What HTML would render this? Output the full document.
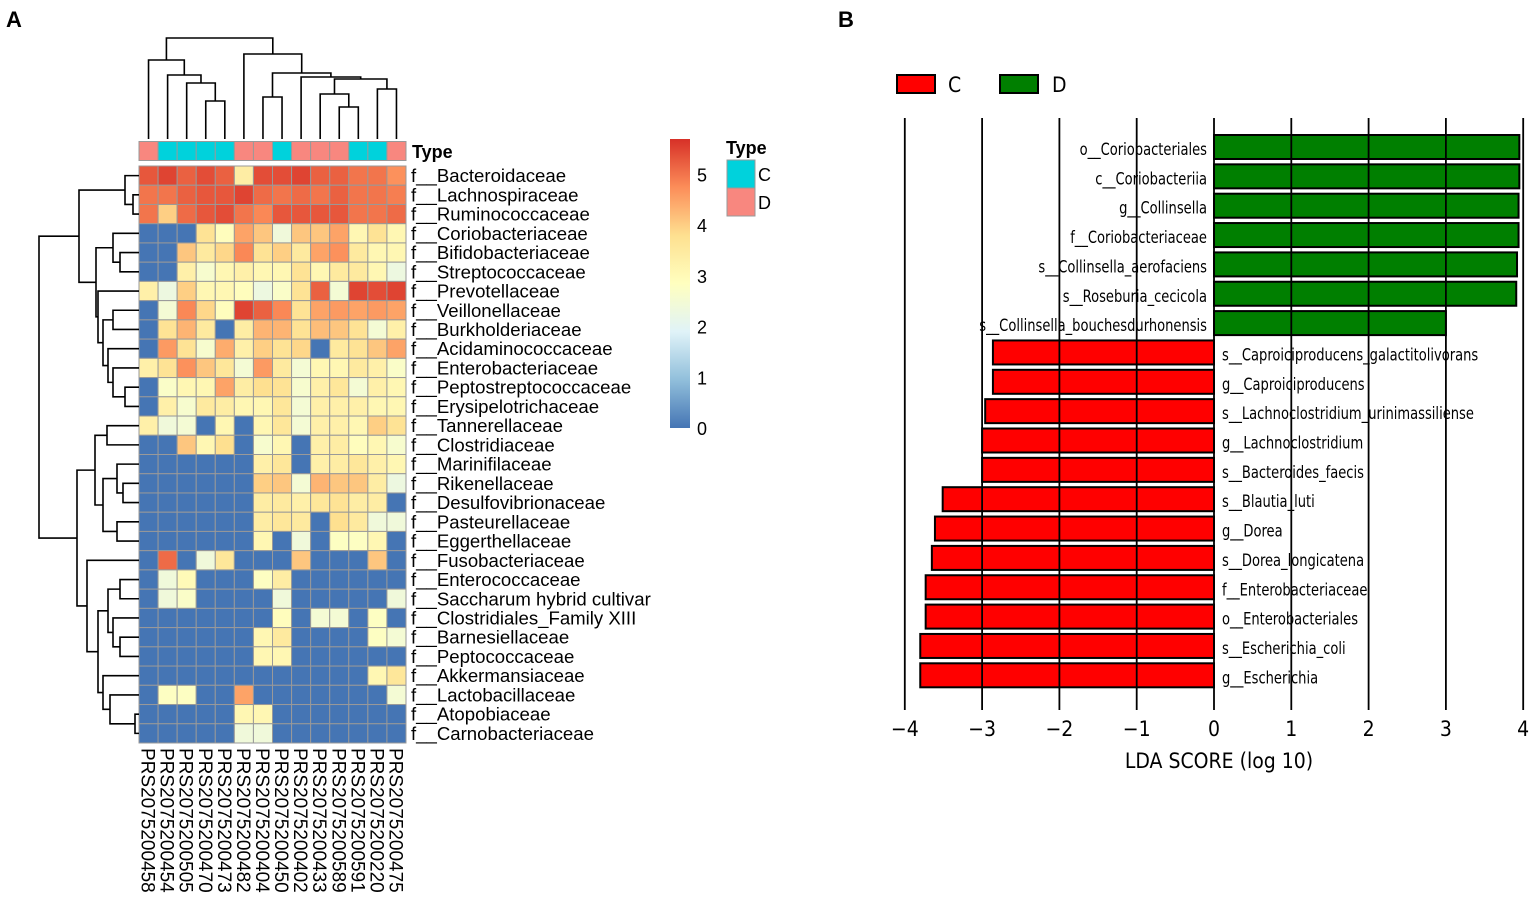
<!DOCTYPE html>
<html><head><meta charset="utf-8">
<style>
html,body{margin:0;padding:0;background:#fff;}
svg{display:block;}
.lda{font-family:"DejaVu Sans Condensed","DejaVu Sans","Liberation Sans",sans-serif;font-stretch:condensed;}
</style></head>
<body>
<svg id="fig" width="1535" height="914" viewBox="0 0 1535 914" xmlns="http://www.w3.org/2000/svg" font-family="Liberation Sans, Arial, sans-serif">
<text x="6" y="27" font-size="22" font-weight="bold">A</text>
<text x="838" y="27" font-size="22" font-weight="bold">B</text>
<g id="heat"></g>
<g id="lda" class="lda"></g>
</svg>
<script>
// ---------- Heatmap data ----------
const samples=["PRS20752004 58","PRS20752004 54","PRS20752005 05","PRS20752004 70","PRS20752004 73","PRS20752004 82","PRS20752004 04","PRS20752004 50","PRS20752004 02","PRS20752004 33","PRS20752005 89","PRS20752005 91","PRS20752002 20","PRS20752004 75"];
const sampleType=["D","C","C","C","C","D","D","C","D","D","D","C","C","D"];
const families=["Bacteroidaceae","Lachnospiraceae","Ruminococcaceae","Coriobacteriaceae","Bifidobacteriaceae","Streptococcaceae","Prevotellaceae","Veillonellaceae","Burkholderiaceae","Acidaminococcaceae","Enterobacteriaceae","Peptostreptococcaceae","Erysipelotrichaceae","Tannerellaceae","Clostridiaceae","Marinifilaceae","Rikenellaceae","Desulfovibrionaceae","Pasteurellaceae","Eggerthellaceae","Fusobacteriaceae","Enterococcaceae","Saccharum hybrid cultivar","Clostridiales_Family XIII","Barnesiellaceae","Peptococcaceae","Akkermansiaceae","Lactobacillaceae","Atopobiaceae","Carnobacteriaceae"];
const heatValues=[
[5.3,5.5,5.2,5.4,5.2,3.4,5.4,5.4,5.5,5.2,5.2,5.0,5.0,4.7],
[5.0,5.0,5.2,5.3,5.3,5.5,5.1,5.0,5.1,5.0,5.2,5.0,5.0,4.9],
[5.0,4.0,5.1,5.3,5.4,5.0,4.8,5.3,5.3,5.3,5.3,5.0,5.0,5.1],
[0,0,0,3.7,2.9,4.5,4.1,2.4,4.1,4.1,4.5,3.1,3.7,3.1],
[0,0,4.1,3.5,3.9,4.8,3.7,4.0,3.5,4.5,4.7,3.5,3.1,3.1],
[0,0,3.3,2.6,3.1,3.3,3.1,3.1,3.7,3.1,3.5,3.5,3.1,2.3],
[3.3,2.3,4.0,3.1,3.1,2.9,2.3,2.7,3.7,5.2,2.5,5.5,5.4,5.5],
[0,2.5,4.8,3.9,2.9,5.5,5.2,4.8,3.7,4.5,4.6,4.5,4.6,4.5],
[0,3.7,4.3,3.5,0,3.4,4.3,4.3,3.7,4.2,4.1,3.7,2.5,3.3],
[0,4.6,3.7,2.6,4.4,3.3,4.0,3.7,3.9,0,3.5,3.7,4.1,4.5],
[3.3,3.7,4.7,4.1,3.6,2.5,4.6,3.5,2.5,3.1,3.1,3.5,3.3,2.7],
[0,2.7,3.1,3.1,4.5,3.4,3.8,3.7,2.6,3.3,3.6,2.5,3.3,3.1],
[0,3.3,2.6,3.5,3.4,3.1,3.1,3.6,2.5,3.3,3.3,3.3,3.1,3.1],
[3.3,2.4,2.5,0,3.1,0,3.1,3.6,2.5,3.3,3.3,3.1,4.0,3.7],
[0,0,4.1,3.1,3.8,0,2.6,3.1,0,3.3,3.4,2.9,3.1,2.6],
[0,0,0,0,0,0,3.3,3.6,0,3.3,3.4,3.6,3.3,3.1],
[0,0,0,0,0,0,4.0,4.1,2.5,4.3,4.1,4.1,3.4,2.3],
[0,0,0,0,0,0,3.4,3.5,3.3,3.6,3.7,3.4,3.4,0],
[0,0,0,0,0,0,3.4,3.6,3.5,0,3.8,3.5,2.4,2.4],
[0,0,0,0,0,0,3.1,0,2.4,0,2.8,2.8,3.1,0],
[0,5.1,0,2.4,3.6,0,0,0,4.1,0,0,0,4.1,0],
[0,2.4,3.0,0,0,0,2.8,3.4,0,0,0,0,0,0],
[0,2.4,2.7,0,0,0,0,2.4,0,0,0,0,0,2.4],
[0,0,0,0,0,0,0,2.9,0,2.5,2.5,0,2.8,0],
[0,0,0,0,0,0,3.1,3.5,0,0,0,0,2.8,2.5],
[0,0,0,0,0,0,3.1,3.1,0,0,0,0,0,0],
[0,0,0,0,0,0,0,0,0,0,0,0,3.1,3.6],
[0,2.8,2.8,0,0,4.5,0,0,0,0,0,0,0,2.5],
[0,0,0,0,0,3.1,3.1,0,0,0,0,0,0,0],
[0,0,0,0,0,2.4,2.4,0,0,0,0,0,0,0]];
const colorTicks=[0,1,2,3,4,5];
const colTree=[38,[60,0,[75,1,[83,2,[101,3,4]]]],[54,5,[73,[97,6,7],[77,8,[79,[94,9,[107,10,11]],[89,12,13]]]]]];
const rowTree=[39,
 [79,[125,0,[133,1,2]],[96,[113,3,[120,4,5]],[98,6,[103,[113,7,8],[108,9,[113,10,[125,11,12]]]]]]],
 [77,[95,[107,13,14],[103,[117,15,[123,16,17]],[117,18,19]]],
     [87,20,[98,[108,[120,21,22],[113,23,[120,24,25]]],[103,26,[110,27,[135,28,29]]]]]]];

// ---------- LDA data ----------
const ldaLabels=["o__Coriobacteriales","c__Coriobacteriia","g__Collinsella","f__Coriobacteriaceae","s__Collinsella_aerofaciens","s__Roseburia_cecicola","s__Collinsella_bouchesdurhonensis","s__Caproiciproducens_galactitolivorans","g__Caproiciproducens","s__Lachnoclostridium_urinimassiliense","g__Lachnoclostridium","s__Bacteroides_faecis","s__Blautia_luti","g__Dorea","s__Dorea_longicatena","f__Enterobacteriaceae","o__Enterobacteriales","s__Escherichia_coli","g__Escherichia"];
const ldaScores=[3.95,3.95,3.94,3.94,3.92,3.91,3.0,-2.86,-2.86,-2.96,-3.0,-3.0,-3.51,-3.61,-3.65,-3.73,-3.73,-3.8,-3.8];
const ldaTicks=[-4,-3,-2,-1,0,1,2,3,4];

const NS="http://www.w3.org/2000/svg";
function mk(tag,attrs,parent,text){const e=document.createElementNS(NS,tag);for(const k in attrs)e.setAttribute(k,attrs[k]);if(text!==undefined)e.textContent=text;parent.appendChild(e);return e;}

// ---------- Heatmap drawing ----------
const H=document.getElementById('heat');
const gx0=139,gx1=406,gy0=166,gy1=743;
const cw=(gx1-gx0)/samples.length, rh=(gy1-gy0)/families.length;
const stops=["#4575B4","#91BFDB","#E0F3F8","#FFFFBF","#FEE090","#FC8D59","#D73027"];
const vmax=5.7;
function hex2rgb(h){return [1,3,5].map(i=>parseInt(h.substr(i,2),16));}
function colorOf(v){let t=Math.max(0,Math.min(1,v/vmax))*(stops.length-1);let i=Math.min(stops.length-2,Math.floor(t));let f=t-i;const a=hex2rgb(stops[i]),b=hex2rgb(stops[i+1]);return 'rgb('+a.map((c,k)=>Math.round(c+(b[k]-c)*f)).join(',')+')';}
const colX=i=>gx0+cw*(i+0.5), rowY=j=>gy0+rh*(j+0.5);

sampleType.forEach((t,i)=>{
  const r=mk('rect',{x:gx0+cw*i,y:141.5,width:cw,height:19,fill:t==='C'?'#00D2DC':'#F8877F',stroke:'#999','stroke-width':1},H);
  
  
});
const tl=mk('text',{x:412,y:158,'font-size':18,'font-weight':'bold'},H,'Type');


heatValues.forEach((row,j)=>row.forEach((v,i)=>{
  const r=mk('rect',{x:gx0+cw*i,y:gy0+rh*j,width:cw,height:rh,fill:colorOf(v),stroke:'#999','stroke-width':1},H);
  
  
}));
families.forEach((f,j)=>{
  const t=mk('text',{x:411,y:rowY(j)+6.5,'font-size':18.6},H,'f__'+f);
  
});
samples.forEach((s,i)=>{
  const t=mk('text',{x:0,y:0,'font-size':19,transform:'translate('+(colX(i)-7)+',748) rotate(90)'},H,s.replace(' ',''));
  
});
function drawTree(node,pos,isCol){
  if(typeof node==='number') return {c:pos(node),h:139};
  const h=node[0];const a=drawTree(node[1],pos,isCol),b=drawTree(node[2],pos,isCol);
  let d;
  if(isCol) d='M'+a.c+','+a.h+'V'+h+'H'+b.c+'V'+b.h;
  else d='M'+a.h+','+a.c+'H'+h+'V'+b.c+'H'+b.h;
  const p=mk('path',{d:d,fill:'none',stroke:'#000','stroke-width':1.6},H);
  
  
  return {c:(a.c+b.c)/2,h:h};
}
drawTree(colTree,colX,true);
drawTree(rowTree,rowY,false);

const defs=mk('defs',{},H);const lg=mk('linearGradient',{id:'cg',x1:0,y1:1,x2:0,y2:0},defs);
stops.forEach((c,i)=>mk('stop',{offset:i/(stops.length-1),'stop-color':c},lg));
const cb=mk('rect',{x:670,y:139,width:20,height:289,fill:'url(#cg)'},H);

const cbY=v=>428-(428-139)*v/vmax;
colorTicks.forEach(v=>{const t=mk('text',{x:697,y:cbY(v)+7,'font-size':18},H,String(v));
  });
const lt=mk('text',{x:726,y:154,'font-size':18,'font-weight':'bold'},H,'Type');

[['C','#00D2DC',160],['D','#F8877F',188]].forEach(([k,c,y])=>{
  const r=mk('rect',{x:727,y:y,width:28,height:28,fill:c,stroke:'#999','stroke-width':1},H);
  
  const t=mk('text',{x:758,y:y+21,'font-size':18},H,k);
  
});

// ---------- LDA drawing ----------
const L=document.getElementById('lda');
const x0px=1214, unit=77.3;
const xs=v=>x0px+v*unit;
const barTop0=135, step=29.35, bh=24;
[['C','#FF0000',897,948],['D','#007F00',1000,1052]].forEach(([k,c,bx,tx])=>{
  const r=mk('rect',{x:bx,y:75,width:38,height:18,fill:c,stroke:'#000','stroke-width':2},L);
  
  const t=mk('text',{x:tx,y:92,'font-size':21},L,k);
  
});
ldaScores.forEach((v,i)=>{
  const y=barTop0+step*i;
  const r=mk('rect',{x:Math.min(xs(0),xs(v)),y:y,width:Math.abs(xs(v)-xs(0)),height:bh,fill:v>0?'#007F00':'#FF0000',stroke:'#000','stroke-width':2},L);
  
});
ldaTicks.forEach(v=>{
  const l=mk('line',{x1:xs(v),x2:xs(v),y1:118,y2:710,stroke:'#000','stroke-width':1.8},L);
  
  const t=mk('text',{x:xs(v),y:736,'font-size':21,'text-anchor':'middle'},L,v<0?'\u2212'+Math.abs(v):String(v));
  
});
ldaLabels.forEach((s,i)=>{
  const v=ldaScores[i], y=barTop0+step*i+bh/2+8;
  const t=mk('text',{x:v>0?xs(0)-7:xs(0)+8,y:y,'font-size':17,'text-anchor':v>0?'end':'start'},L,s);
  
  const w=t.getComputedTextLength();
  if(w>0){t.setAttribute('textLength',(w*0.855).toFixed(1));t.setAttribute('lengthAdjust','spacingAndGlyphs');}
});
const at=mk('text',{x:1219,y:768,'font-size':21,'text-anchor':'middle'},L,'LDA SCORE (log 10)');

</script>
</body></html>
